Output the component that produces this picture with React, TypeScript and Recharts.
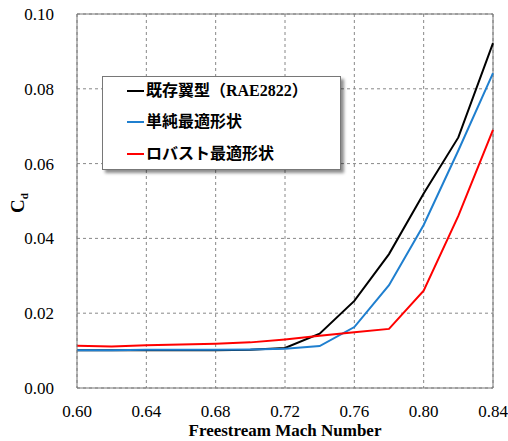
import React from "react";
import { LineChart, Line, XAxis, YAxis, CartesianGrid, ReferenceLine, Label } from "recharts";

const mach = [0.6, 0.62, 0.64, 0.66, 0.68, 0.7, 0.72, 0.74, 0.76, 0.78, 0.8, 0.82, 0.84];
const rae2822 = [0.0101, 0.0101, 0.0101, 0.0101, 0.0101, 0.0102, 0.0107, 0.0145, 0.0233, 0.0358, 0.052, 0.067, 0.0922];
const simpleOpt = [0.0101, 0.0101, 0.0102, 0.0102, 0.0102, 0.0103, 0.0105, 0.0112, 0.0163, 0.0275, 0.0436, 0.0635, 0.0842];
const robustOpt = [0.0113, 0.0111, 0.0114, 0.0116, 0.0118, 0.0122, 0.013, 0.014, 0.0149, 0.0158, 0.026, 0.046, 0.069];
const xTicks = [0.6, 0.64, 0.68, 0.72, 0.76, 0.8, 0.84];
const yTicks = [0, 0.02, 0.04, 0.06, 0.08, 0.1];
const seriesNames = ["既存翼型（RAE2822）", "単純最適形状", "ロバスト最適形状"];
const seriesColors = ["#000000", "#1f7fcf", "#ff0000"];

const data = mach.map((m, i) => ({ m, a: rae2822[i], b: simpleOpt[i], c: robustOpt[i] }));

const FONT = "'Liberation Serif', 'Times New Roman', 'Noto Sans CJK JP', serif";

const LegendBox = () => (
  <div
    style={{
      position: "absolute",
      left: 102,
      top: 76,
      width: 239,
      height: 94,
      boxSizing: "border-box",
      border: "1px solid #777",
      background: "#fff",
      boxShadow: "3px 3px 3px rgba(0,0,0,0.45)",
      padding: "0 0 0 24px",
      fontFamily: FONT,
      fontWeight: "bold",
      fontSize: 16,
      color: "#000",
    }}
  >
    <div style={{ marginTop: -2 }}>
      {seriesNames.map((n, i) => (
        <div key={n} style={{ display: "flex", alignItems: "center", height: 31.5, lineHeight: "16px" }}>
          <span style={{ display: "inline-block", width: 17, height: 2, background: seriesColors[i], marginRight: 2 }} />
          <span style={{ whiteSpace: "nowrap" }}>{n}</span>
        </div>
      ))}
    </div>
  </div>
);

const CdLabel = (props: any) => {
  const vb = props.viewBox || {};
  const cy = (vb.y || 0) + (vb.height || 0) / 2 + 2;
  return (
    <text
      x={0}
      y={0}
      transform={`translate(24, ${cy}) rotate(-90)`}
      textAnchor="middle"
      fontFamily={FONT}
      fontWeight="bold"
      fontSize={19}
      fill="#000"
    >
      C
      <tspan fontSize={11} dy={4}>d</tspan>
    </text>
  );
};

export default function App() {
  return (
    <div style={{ position: "absolute", left: 0, top: 0, width: 508, height: 441, background: "#fff" }}>
      <LineChart width={508} height={441} data={data} margin={{ top: 14, right: 15, left: 0, bottom: 0 }}>
        <CartesianGrid stroke="#888" strokeDasharray="3 3" />
        <XAxis
          dataKey="m"
          type="number"
          domain={[0.6, 0.84]}
          ticks={xTicks}
          interval={0}
          tickFormatter={(v: number) => v.toFixed(2)}
          height={53}
          tickLine={false}
          tickMargin={11}
          stroke="#777"
          tick={{ fill: "#000", fontFamily: FONT, fontSize: 17 }}
        >
          <Label
            value="Freestream Mach Number"
            position="insideBottom"
            offset={5}
            style={{ fontFamily: FONT, fontWeight: "bold", fontSize: 17, fill: "#000" }}
          />
        </XAxis>
        <YAxis
          type="number"
          domain={[0, 0.1]}
          ticks={yTicks}
          interval={0}
          tickFormatter={(v: number) => v.toFixed(2)}
          width={77}
          tickLine={false}
          tickMargin={17}
          stroke="#777"
          tick={{ fill: "#000", fontFamily: FONT, fontSize: 17 }}
        >
          <Label content={<CdLabel />} />
        </YAxis>
        <ReferenceLine y={0.1} stroke="#777" strokeDasharray="0" />
        <ReferenceLine x={0.84} stroke="#777" strokeDasharray="0" />
        <Line type="linear" dataKey="a" name={seriesNames[0]} stroke={seriesColors[0]} strokeWidth={2} dot={false} isAnimationActive={false} />
        <Line type="linear" dataKey="b" name={seriesNames[1]} stroke={seriesColors[1]} strokeWidth={2} dot={false} isAnimationActive={false} />
        <Line type="linear" dataKey="c" name={seriesNames[2]} stroke={seriesColors[2]} strokeWidth={2} dot={false} isAnimationActive={false} />
      </LineChart>
      <LegendBox />
    </div>
  );
}
